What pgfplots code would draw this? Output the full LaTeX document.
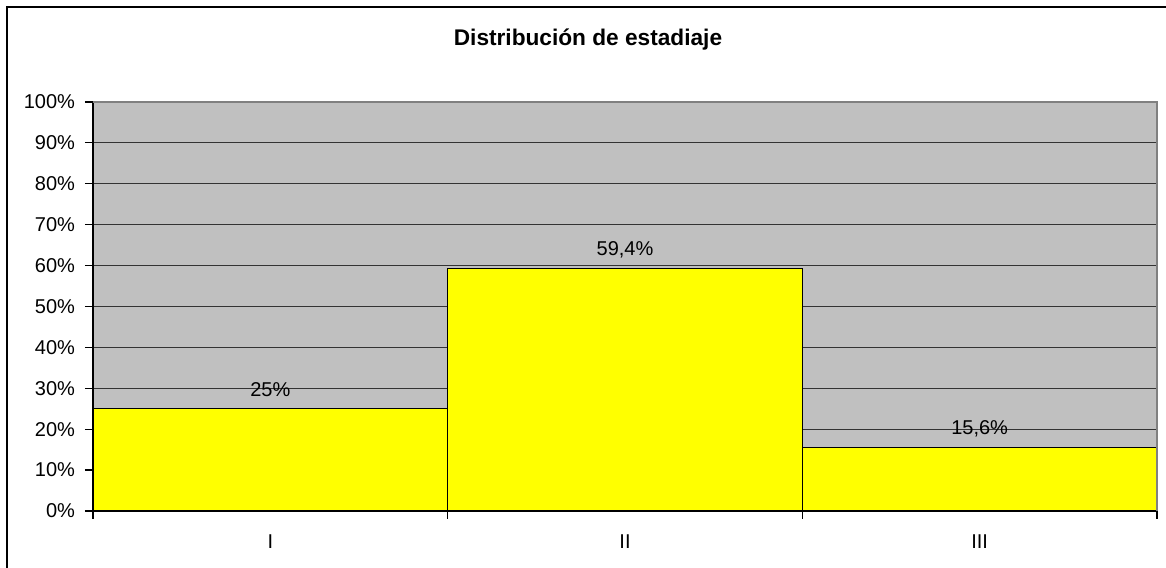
\documentclass[border=0pt]{standalone}
\usepackage{pgfplots}
\pgfplotsset{compat=1.18}
\usepackage{fontspec}
\setmainfont{Liberation Sans}
\definecolor{plotbg}{HTML}{C0C0C0}
\definecolor{baryellow}{HTML}{FFFF00}
\definecolor{framegray}{HTML}{808080}
\definecolor{gridc}{HTML}{333333}
\pgfplotstableread{
x y
0.5 25
1.5 59.4
2.5 15.6
}\datatable
\begin{document}
\begin{tikzpicture}
\useasboundingbox (0,0) rectangle (874.5pt,425.25pt);
\draw[black, line width=1pt] (5.25pt,-10pt) -- (5.25pt,420pt) -- (890pt,420pt);
\node[font=\fontsize{17}{20}\selectfont\bfseries, anchor=base] at (441pt,391pt) {Distribución de estadiaje};
\begin{axis}[
  at={(69.75pt,42pt)}, anchor=south west,
  scale only axis, width=798pt, height=306.75pt,
  xmin=0, xmax=3, ymin=0, ymax=100,
  axis lines=left, axis line style={-, black, line width=0.9pt},
  axis background/.style={fill=plotbg},
  ytick={0,10,...,100},
  yticklabel={\pgfmathprintnumber{\tick}\%},
  ymajorgrids, major grid style={gridc, line width=0.8pt},
  xtick={0,1,2,3}, xticklabels={},
  extra x ticks={0.5,1.5,2.5},
  extra x tick labels={I,II,III},
  extra x tick style={major tick length=0pt, grid=none, xticklabel style={anchor=base, yshift=-28pt}},
  tick align=outside, major tick length=6pt,
  tick style={black, line width=0.9pt},
  /pgf/number format/assume math mode=true,
  /pgf/number format/use comma,
  ticklabel style={font=\fontsize{15}{18}\selectfont},
  yticklabel style={xshift=-4pt},
  clip=false,
]
\addplot[ybar, bar width=1, fill=baryellow, draw=black, line width=0.8pt,
  nodes near coords={\pgfmathprintnumber{\pgfplotspointmeta}\%},
  every node near coord/.append style={anchor=base, yshift=9.4pt, font=\fontsize{15}{18}\selectfont, black}
] table[x=x, y=y] {\datatable};
\draw[framegray, line width=1.2pt] (rel axis cs:0,1) -- (rel axis cs:1,1) -- (rel axis cs:1,0);
\end{axis}
\end{tikzpicture}
\end{document}
